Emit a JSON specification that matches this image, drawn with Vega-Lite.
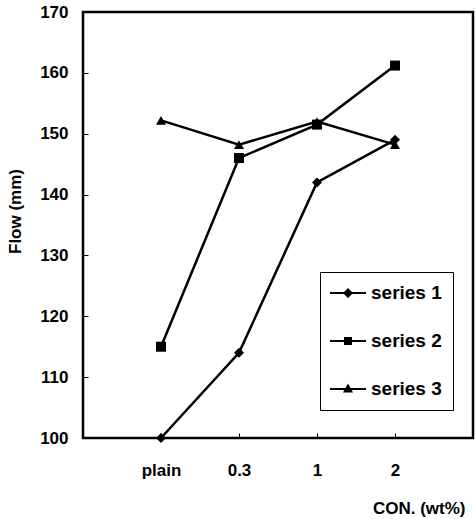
{
  "$schema": "https://vega.github.io/schema/vega-lite/v6.json",
  "width": 390,
  "height": 426,
  "autosize": "none",
  "padding": {"left": 83, "top": 12, "right": 3, "bottom": 81},
  "background": "white",
  "config": {
    "font": "Liberation Sans",
    "view": {"stroke": "black", "strokeWidth": 2.5},
    "axis": {"grid": false, "domain": false, "labelColor": "black", "labelFont": "Liberation Sans", "labelFontSize": 17, "labelFontWeight": "bold", "tickColor": "black", "tickWidth": 1, "tickSize": -5, "titleFont": "Liberation Sans", "titleColor": "black", "titleFontSize": 17, "titleFontWeight": "bold"}
  },
  "data": {
    "values": [
      {"con": "plain", "series": "series 1", "flow": 100},
      {"con": "0.3", "series": "series 1", "flow": 114},
      {"con": "1", "series": "series 1", "flow": 142},
      {"con": "2", "series": "series 1", "flow": 149},
      {"con": "plain", "series": "series 2", "flow": 115},
      {"con": "0.3", "series": "series 2", "flow": 146},
      {"con": "1", "series": "series 2", "flow": 151.5},
      {"con": "2", "series": "series 2", "flow": 161.2},
      {"con": "plain", "series": "series 3", "flow": 152.2},
      {"con": "0.3", "series": "series 3", "flow": 148.2},
      {"con": "1", "series": "series 3", "flow": 152},
      {"con": "2", "series": "series 3", "flow": 148.2}
    ]
  },
  "encoding": {
    "x": {
      "field": "con", "type": "ordinal", "sort": ["plain", "0.3", "1", "2"],
      "scale": {"type": "point", "padding": 1},
      "axis": {"labelAngle": 0, "labelPadding": 29, "labelBaseline": "top", "title": "CON. (wt%)", "titleAnchor": "end", "titleAlign": "right", "titleX": 382, "titleY": 70, "titleBaseline": "middle"}
    },
    "y": {
      "field": "flow", "type": "quantitative",
      "scale": {"domain": [100, 170], "nice": false, "zero": false},
      "axis": {"values": [100, 110, 120, 130, 140, 150, 160, 170], "labelPadding": 20, "title": "Flow (mm)", "titleX": -68, "titleY": 199, "titleAlign": "center", "titleBaseline": "middle", "titleAngle": 270}
    }
  },
  "layer": [
    {
      "mark": {"type": "line", "color": "black", "strokeWidth": 2.5},
      "encoding": {"detail": {"field": "series", "type": "nominal"}}
    },
    {
      "mark": {"type": "point", "filled": true, "color": "black", "opacity": 1, "size": 100},
      "encoding": {
        "shape": {"field": "series", "type": "nominal", "scale": {"range": ["diamond", "square", "triangle-up"]}, "legend": null}
      }
    },
    {
      "mark": {"type": "point", "filled": true, "color": "black", "opacity": 0, "size": 400},
      "encoding": {
        "shape": {
          "field": "series", "type": "nominal",
          "scale": {"range": [
            "M-1.8,-0.1H1.8V0.1H-1.8ZM0,-0.5L0.5,0L0,0.5L-0.5,0Z",
            "M-1.8,-0.1H1.8V0.1H-1.8ZM-0.4,-0.4H0.4V0.4H-0.4Z",
            "M-1.8,-0.1H1.8V0.1H-1.8ZM0,-0.55L0.5,0.35H-0.5Z"
          ]},
          "legend": {
            "title": null, "orient": "none", "legendX": 237, "legendY": 260,
            "strokeColor": "black", "padding": 11, "symbolSize": 400,
            "symbolOpacity": 1, "symbolFillColor": "black", "symbolStrokeColor": "black", "symbolStrokeWidth": 0,
            "symbolOffset": 7, "labelOffset": 13, "rowPadding": 28,
            "labelFont": "Liberation Sans", "labelFontSize": 19, "labelFontWeight": "bold", "labelColor": "black",
            "encode": {"symbols": {"update": {"fill": {"value": "black"}, "opacity": {"value": 1}, "fillOpacity": {"value": 1}}}}
          }
        }
      }
    }
  ],
  "resolve": {"scale": {"shape": "independent"}}
}
